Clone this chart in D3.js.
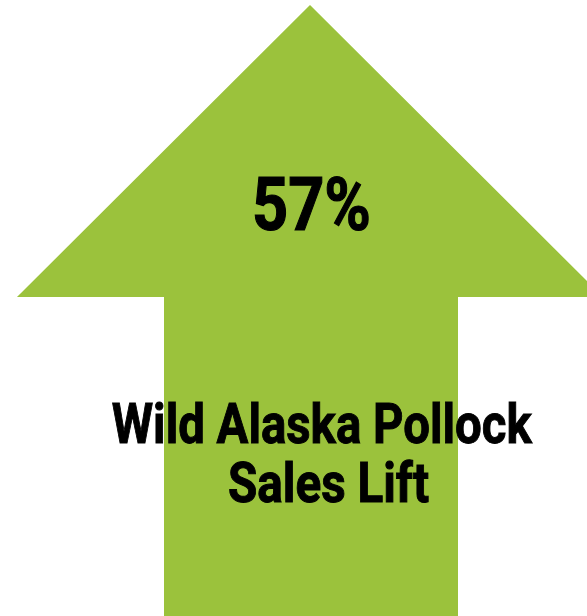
<!DOCTYPE html>
<html>
<head>
<meta charset="utf-8">
<script src="https://cdn.jsdelivr.net/npm/d3@7"></script>
<style>
  html, body { margin: 0; padding: 0; background: #fff; }
  svg { display: block; }
</style>
</head>
<body>
<svg id="chart" width="587" height="616"></svg>
<script>
// Headline metric and its caption
const metricValues = [57];
const captionLines = ["Wild Alaska Pollock", "Sales Lift"];

const width = 587, height = 616;
const green = "#9bc23c";
const svg = d3.select("#chart");

// Arrow geometry (head spans wider than the canvas on the right, so it clips)
const tip = [310, 5];
const headBaseY = 297;
const headHalf = 293;
const shaftLeft = 164, shaftRight = 458;

const arrowPts = [
  tip,
  [tip[0] + headHalf, headBaseY],
  [shaftRight, headBaseY],
  [shaftRight, height + 2],
  [shaftLeft, height + 2],
  [shaftLeft, headBaseY],
  [tip[0] - headHalf, headBaseY]
];

svg.append("path")
  .attr("d", d3.line()(arrowPts) + "Z")
  .attr("fill", green);

const fmt = d3.format(".0%");
const font = "Roboto, 'Liberation Sans', sans-serif";

// Big percentage in the arrow head
svg.selectAll("text.metric")
  .data(metricValues)
  .join("text")
  .attr("class", "metric")
  .attr("x", 311.5)
  .attr("y", 230)
  .attr("text-anchor", "middle")
  .attr("font-family", font)
  .attr("font-weight", 700)
  .attr("font-size", 74)
  .attr("textLength", 119)
  .attr("lengthAdjust", "spacingAndGlyphs")
  .attr("fill", "#000")
  .attr("stroke", "#000")
  .attr("stroke-width", 1.2)
  .text(d => fmt(d / 100));

// Caption lines, centred and condensed
const captionLayout = [
  { cx: 321.7, y: 443, w: 420 },
  { cx: 328.5, y: 502, w: 201 }
];
svg.selectAll("text.caption")
  .data(captionLines)
  .join("text")
  .attr("class", "caption")
  .attr("x", (d, i) => captionLayout[i].cx)
  .attr("y", (d, i) => captionLayout[i].y)
  .attr("text-anchor", "middle")
  .attr("font-family", font)
  .attr("font-weight", 700)
  .attr("font-size", 56)
  .attr("textLength", (d, i) => captionLayout[i].w)
  .attr("lengthAdjust", "spacingAndGlyphs")
  .attr("fill", "#000")
  .attr("stroke", "#000")
  .attr("stroke-width", 1)
  .text(d => d);
</script>
</body>
</html>
